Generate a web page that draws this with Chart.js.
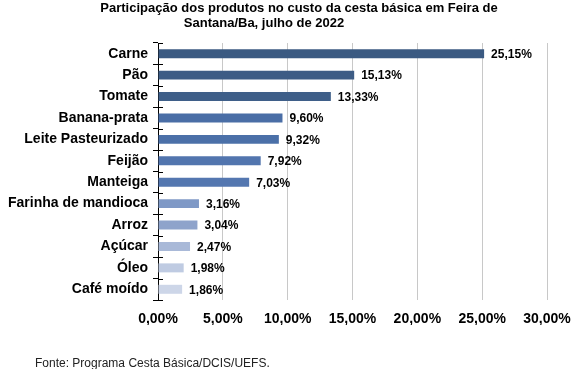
<!DOCTYPE html>
<html>
<head>
<meta charset="utf-8">
<script src="https://cdn.jsdelivr.net/npm/chart.js@4"></script>
<style>
  html, body { margin: 0; padding: 0; background: #fff; }
  #wrap { width: 574px; height: 369px; position: relative; }
</style>
</head>
<body>
<div id="wrap"><canvas id="chart" width="574" height="369"></canvas></div>
<script>
// data
const produtos = ['Carne', 'Pão', 'Tomate', 'Banana-prata', 'Leite Pasteurizado', 'Feijão',
    'Manteiga', 'Farinha de mandioca', 'Arroz', 'Açúcar', 'Óleo', 'Café moído'];
const participacao = [25.15, 15.13, 13.33, 9.60, 9.32, 7.92, 7.03, 3.16, 3.04, 2.47, 1.98, 1.86];
const barColors = ['#3b5a82', '#3d5c85', '#3f5f89', '#4a6ea6', '#4b70a8', '#5275ae',
    '#5477b0', '#7f99c6', '#8ea3cb', '#a9b9d8', '#bfcbe2', '#cdd6e8'];
const xTicks = [0, 5, 10, 15, 20, 25, 30];
const titleLines = ['Participação dos produtos no custo da cesta básica em Feira de', 'Santana/Ba, julho de 2022'];
const fonte = 'Fonte: Programa Cesta Básica/DCIS/UEFS.';

const fmt = v => v.toFixed(2).replace('.', ',') + '%';
const FONT = 'Arial, "Liberation Sans", sans-serif';

// title, source note, bar value labels and cross ticks on the category axis
const extras = {
    id: 'extras',
    afterDatasetsDraw(chart) {
        const ctx = chart.ctx;
        ctx.save();
        ctx.fillStyle = '#000';
        ctx.font = 'bold 12px ' + FONT;
        ctx.textBaseline = 'middle';
        ctx.textAlign = 'left';
        chart.getDatasetMeta(0).data.forEach((bar, i) => {
            ctx.fillText(fmt(participacao[i]), bar.x + 7, bar.y + 1);
        });

        // right half of the cross tick marks
        const y = chart.scales.y;
        ctx.strokeStyle = '#000';
        ctx.lineWidth = 1;
        const step = (y.bottom - y.top) / produtos.length;
        for (let i = 0; i <= produtos.length; i++) {
            const py = Math.round(y.top + i * step) + 0.5;
            ctx.beginPath();
            ctx.moveTo(y.right, py);
            ctx.lineTo(y.right + 5, py);
            ctx.stroke();
        }

        ctx.font = 'bold 13px ' + FONT;
        ctx.textAlign = 'center';
        ctx.textBaseline = 'alphabetic';
        ctx.fillText(titleLines[0], 299, 12);
        ctx.fillText(titleLines[1], 264, 27);

        ctx.font = '12px ' + FONT;
        ctx.fillStyle = '#222';
        ctx.textAlign = 'left';
        ctx.fillText(fonte, 35, 367);
        ctx.restore();
    }
};

new Chart(document.getElementById('chart'), {
    type: 'bar',
    data: {
        labels: produtos,
        datasets: [{
            data: participacao,
            backgroundColor: barColors,
            borderWidth: 0,
            categoryPercentage: 1,
            barPercentage: 0.42
        }]
    },
    options: {
        indexAxis: 'y',
        responsive: false,
        animation: false,
        layout: { padding: { top: 43, right: 27, bottom: 44, left: 0 } },
        plugins: {
            legend: { display: false },
            tooltip: { enabled: false },
            title: { display: false }
        },
        scales: {
            x: {
                min: 0,
                max: 30,
                afterBuildTicks: scale => { scale.ticks = xTicks.map(v => ({ value: v })); },
                afterFit: scale => {
                    scale.height = 25;
                    scale.paddingLeft = 0;
                    scale.paddingRight = 0;
                },
                border: { display: false },
                grid: {
                    color: ctx => ctx.tick && ctx.tick.value === 0 ? 'rgba(0,0,0,0)' : '#c8c8c8',
                    drawTicks: false
                },
                ticks: {
                    padding: 11,
                    color: '#000',
                    font: { family: FONT, size: 14, weight: 'bold' },
                    callback: v => fmt(v)
                }
            },
            y: {
                afterFit: scale => { scale.width = 158; },
                border: { display: true, color: '#000', width: 1 },
                grid: {
                    offset: true,
                    drawOnChartArea: false,
                    tickLength: 5,
                    color: '#000'
                },
                ticks: {
                    padding: 5,
                    color: '#000',
                    font: { family: FONT, size: 14, weight: 'bold' }
                }
            }
        }
    },
    plugins: [extras]
});
</script>
</body>
</html>
